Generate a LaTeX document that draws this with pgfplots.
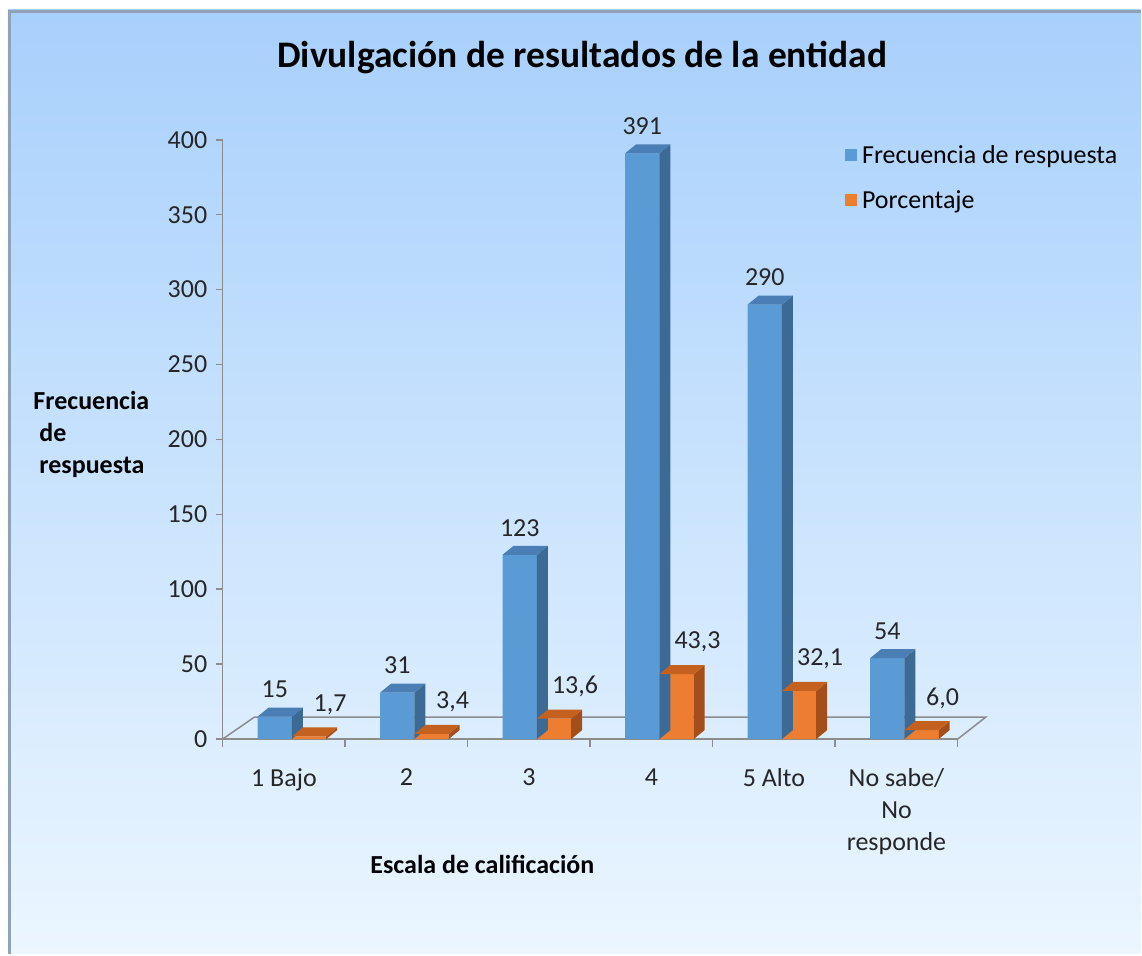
\documentclass[border=0pt]{standalone}
\usepackage{pgfplots}
\usepackage{pgfplotstable}
\pgfplotsset{compat=1.18}
\usepackage{fontspec}
\setmainfont{Carlito}
\definecolor{bfront}{HTML}{5B9BD5}
\definecolor{btop}{HTML}{4A7EB5}
\definecolor{bside}{HTML}{3C6A94}
\definecolor{ofront}{HTML}{ED7D31}
\definecolor{otop}{HTML}{C5611F}
\definecolor{oside}{HTML}{A44F1A}
\definecolor{bgtop}{HTML}{A8D0FC}
\definecolor{bgbot}{HTML}{EBF6FF}
\definecolor{framec}{HTML}{8FA3B8}
\definecolor{axgray}{HTML}{8C8C8C}
\newcommand\fs{\fontsize{26}{32}\selectfont}
\newcommand\defboxmark[3]{%
\pgfdeclareplotmark{#1}{%
  \pgfmathsetlengthmacro\bxh{\barv*1.5pt}%
  \pgfmathsetlengthmacro\bxhb{9pt-\bxh}%
  \pgfmathsetlengthmacro\bxhn{-\bxh}%
  \pgfpathmoveto{\pgfqpoint{17.17pt}{0pt}}%
  \pgfpathlineto{\pgfqpoint{28.17pt}{9pt}}%
  \pgfpathlineto{\pgfqpoint{28.17pt}{\bxhb}}%
  \pgfpathlineto{\pgfqpoint{17.17pt}{\bxhn}}%
  \pgfpathclose
  \pgfsetfillcolor{#2}\pgfusepath{fill}%
  \pgfpathmoveto{\pgfqpoint{-17.17pt}{0pt}}%
  \pgfpathlineto{\pgfqpoint{17.17pt}{0pt}}%
  \pgfpathlineto{\pgfqpoint{28.17pt}{9pt}}%
  \pgfpathlineto{\pgfqpoint{-6.17pt}{9pt}}%
  \pgfpathclose
  \pgfsetfillcolor{#3}\pgfusepath{fill}%
}}
\defboxmark{boxB}{bside}{btop}
\defboxmark{boxO}{oside}{otop}
\pgfplotstableread{
x f p
0 15 1.7
1 31 3.4
2 123 13.6
3 391 43.3
4 290 32.1
5 54 6.0
}\datatable
\begin{document}
\begin{tikzpicture}
\fill[white] (0pt,0pt) rectangle (1142pt,955pt);
\shade[top color=bgtop, bottom color=bgbot] (8pt,0pt) rectangle (1142pt,945pt);
\draw[framec, line width=3pt] (9.5pt,0pt) -- (9.5pt,943.5pt) -- (1142pt,943.5pt);
\node[font=\fontsize{37.5}{44}\selectfont\bfseries] at (583pt,897pt) {Divulgación de resultados de la entidad};
\node[font=\fs\bfseries, align=left, anchor=west] at (30pt,520pt) {Frecuencia\\\hspace*{6pt}de\\\hspace*{6pt}respuesta};
\node[font=\fs\bfseries] at (483pt,89pt) {Escala de calificación};
\begin{axis}[
  at={(223pt,215pt)}, anchor=south west,
  scale only axis, width=736pt, height=600pt,
  xmin=-0.5, xmax=5.5, ymin=0, ymax=400,
  axis lines*=left,
  axis line style={draw=axgray, line width=1.5pt},
  clip=false,
  /pgf/number format/assume math mode=true,
  xtick={0,...,5},
  xticklabels={1 Bajo,2,3,4,5 Alto,{No sabe/\\No\\responde}},
  minor xtick={-0.5,0.5,...,5.5},
  ytick={0,50,...,400},
  tick align=outside,
  major tick length=7pt, minor tick length=8pt,
  tick style={draw=axgray, line width=1.5pt},
  major x tick style={draw=none},
  ticklabel style={font=\fs, text=black!85},
  xticklabel style={align=center, yshift=-19pt},
  yticklabel style={xshift=-5pt},
  legend style={at={(rel axis cs:0.8465,0.995)}, anchor=north west, draw=none, fill=none, font=\fs, row sep=22pt, inner sep=0pt},
  legend cell align=left,
  legend image code/.code={\fill[#1] (0pt,-6pt) rectangle (12pt,6pt); \path (15pt,0pt);},
]
\addplot[draw=axgray, line width=1.5pt, forget plot] coordinates {(-0.5,0) (5.5,0) (5.73,14.7) (-0.24,14.7) (-0.5,0)};
\addplot[ybar, bar width=0.28, bar shift=-0.075, fill=bfront, draw=none] table[x=x, y=f] {\datatable};
\addlegendentry{Frecuencia de respuesta}
\addplot[only marks, mark=boxB, forget plot, visualization depends on={rawy \as \barv},
  nodes near coords={\pgfmathprintnumber[fixed,precision=0]{\pgfplotspointmeta}},
  every node near coord/.append style={anchor=center, yshift=27pt, font=\fs, text=black!85}]
  table[x expr=\thisrow{x}-0.075, y=f] {\datatable};
\addplot[ybar, bar width=0.28, bar shift=0.205, fill=ofront, draw=none] table[x=x, y=p] {\datatable};
\addlegendentry{Porcentaje}
\addplot[only marks, mark=boxO, forget plot, visualization depends on={rawy \as \barv},
  nodes near coords={\pgfmathprintnumber[fixed,fixed zerofill,precision=1,use comma]{\pgfplotspointmeta}},
  every node near coord/.append style={anchor=center, xshift=21pt, yshift=32pt, font=\fs, text=black!85}]
  table[x expr=\thisrow{x}+0.205, y=p] {\datatable};
\end{axis}
\end{tikzpicture}
\end{document}
